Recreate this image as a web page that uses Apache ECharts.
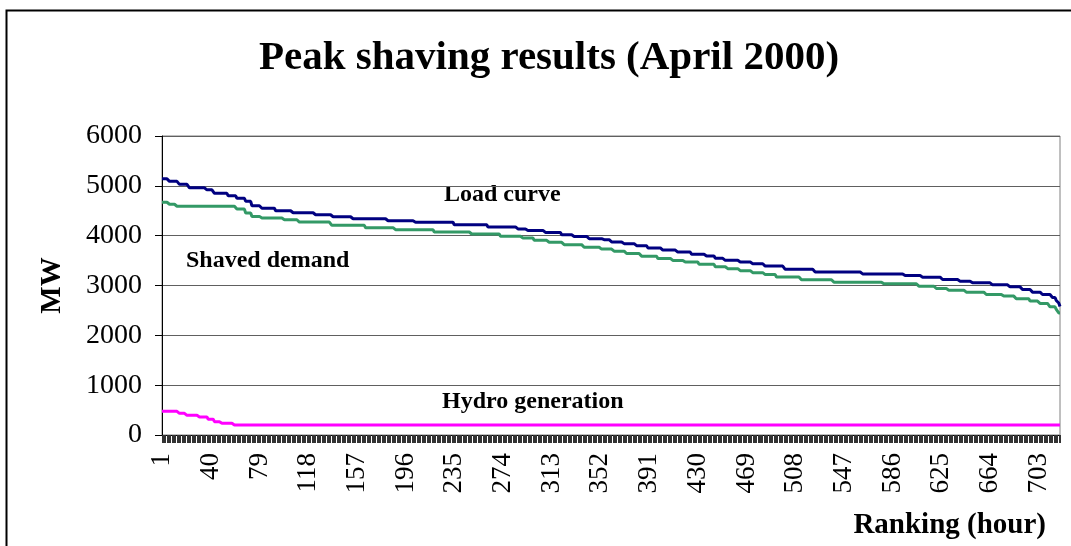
<!DOCTYPE html>
<html>
<head>
<meta charset="utf-8">
<script src="https://cdn.jsdelivr.net/npm/echarts@6/dist/echarts.min.js"></script>
<style>
html,body{margin:0;padding:0;background:#fff;}
#chart{width:1071px;height:546px;}
</style>
</head>
<body>
<div id="chart"></div>
<script>
// ---- Data ----
// Load-duration curves are stepwise; each series is stored as step levels (MW)
// together with the last ranking hour of each step.
const loadStepEnds   = [6,14,22,36,42,53,60,67,72,80,91,104,123,136,152,180,203,234,261,285,293,306,320,330,342,353,360,370,379,389,401,412,424,435,443,451,462,472,483,499,523,560,595,609,625,638,649,665,678,689,697,705,713,716,718,719,720];
const loadStepLevels = [5140,5090,5030,4960,4920,4850,4800,4750,4690,4600,4550,4500,4460,4420,4380,4340,4300,4270,4220,4175,4135,4105,4065,4020,3985,3940,3920,3875,3840,3800,3755,3710,3670,3625,3590,3545,3505,3470,3437,3390,3325,3270,3233,3200,3167,3120,3087,3053,3013,2973,2920,2867,2820,2760,2700,2650,2580];

const shavedStepEnds   = [6,12,60,67,72,80,97,110,136,163,186,218,247,271,288,298,309,322,338,352,362,372,384,397,408,419,430,443,452,462,472,483,492,512,538,578,606,620,630,644,660,673,684,695,703,711,716,718,720];
const shavedStepLevels = [4670,4630,4590,4533,4453,4387,4353,4320,4273,4207,4160,4120,4073,4033,3987,3953,3907,3867,3820,3767,3730,3689,3642,3589,3543,3503,3470,3424,3377,3338,3298,3258,3219,3172,3115,3067,3033,2987,2940,2907,2867,2820,2787,2733,2687,2640,2573,2520,2450];

const hydroStepEnds   = [13,20,29,37,42,48,57,720];
const hydroStepLevels = [475,435,395,360,315,268,234,200];

const HOURS = 720;
const yTicks = [0,1000,2000,3000,4000,5000,6000];

const titleText = 'Peak shaving results (April 2000)';
const yName = 'MW';
const xName = 'Ranking (hour)';
const labelLoad = 'Load curve';
const labelShaved = 'Shaved demand';
const labelHydro = 'Hydro generation';

// ---- Build ----
const hours = [];
for (let h = 1; h <= HOURS; h++) hours.push(String(h));

function expandSteps(ends, levels) {
  const out = [];
  let k = 0;
  for (let h = 1; h <= HOURS; h++) {
    while (h > ends[k]) k++;
    out.push(levels[k]);
  }
  return out;
}

const loadData = expandSteps(loadStepEnds, loadStepLevels);
const shavedData = expandSteps(shavedStepEnds, shavedStepLevels);
const hydroData = expandSteps(hydroStepEnds, hydroStepLevels);

const SERIF = '"Liberation Serif", "Times New Roman", serif';

const chart = echarts.init(document.getElementById('chart'), null, {renderer: 'canvas'});
chart.setOption({
  animation: false,
  backgroundColor: '#fff',
  title: {
    text: titleText,
    left: 544,
    textAlign: 'center',
    top: 33,
    textStyle: {fontFamily: SERIF, fontWeight: 'bold', fontSize: 41, color: '#000'}
  },
  grid: {left: 162, right: 11, top: 136, bottom: 111, show: true, borderColor: '#808080', borderWidth: 1, backgroundColor: 'transparent'},
  xAxis: {
    type: 'category',
    data: hours,
    boundaryGap: false,
    name: xName,
    nameLocation: 'end',
    nameGap: 0,
    nameTextStyle: {fontFamily: SERIF, fontWeight: 'bold', fontSize: 29, color: '#000', align: 'right', verticalAlign: 'top', padding: [76, 14, 0, 0]},
    axisLine: {show: true, lineStyle: {color: '#000', width: 1}},
    axisTick: {show: true, interval: 0, length: 8, lineStyle: {color: '#333', width: 1}},
    axisLabel: {interval: 38, rotate: 90, margin: 18, fontFamily: SERIF, fontSize: 27, color: '#000'},
    splitLine: {show: false}
  },
  yAxis: {
    type: 'value',
    min: yTicks[0],
    max: yTicks[yTicks.length - 1],
    interval: 1000,
    name: yName,
    nameLocation: 'middle',
    nameRotate: 90,
    nameGap: 95,
    nameTextStyle: {fontFamily: SERIF, fontWeight: 'bold', fontSize: 29, color: '#000'},
    axisLine: {show: true, lineStyle: {color: '#000', width: 1}},
    axisTick: {show: true, length: 7, lineStyle: {color: '#000', width: 1}},
    axisLabel: {margin: 20, fontFamily: SERIF, fontSize: 28, color: '#000', formatter: function (v) { return String(v); }},
    splitLine: {show: true, lineStyle: {color: '#606060', width: 1}}
  },
  series: [
    {name: labelHydro, type: 'line', data: hydroData, symbol: 'none', lineStyle: {color: '#FF00FF', width: 3}, itemStyle: {color: '#FF00FF'}, z: 3},
    {name: labelShaved, type: 'line', data: shavedData, symbol: 'none', lineStyle: {color: '#339966', width: 3}, itemStyle: {color: '#339966'}, z: 3},
    {name: labelLoad, type: 'line', data: loadData, symbol: 'none', lineStyle: {color: '#000080', width: 3}, itemStyle: {color: '#000080'}, z: 4}
  ],
  graphic: [
    {type: 'rect', left: 4, top: 8, shape: {x: 0, y: 0, width: 1200, height: 700}, style: {fill: 'none', stroke: '#000', lineWidth: 2}, silent: true, z: -1},
    {type: 'text', x: 444, y: 195, style: {text: labelLoad, font: 'bold 24px ' + SERIF, fill: '#000', textVerticalAlign: 'middle'}},
    {type: 'text', x: 186, y: 261, style: {text: labelShaved, font: 'bold 24px ' + SERIF, fill: '#000', textVerticalAlign: 'middle'}},
    {type: 'text', x: 442, y: 402, style: {text: labelHydro, font: 'bold 24px ' + SERIF, fill: '#000', textVerticalAlign: 'middle'}}
  ]
});
</script>
</body>
</html>
